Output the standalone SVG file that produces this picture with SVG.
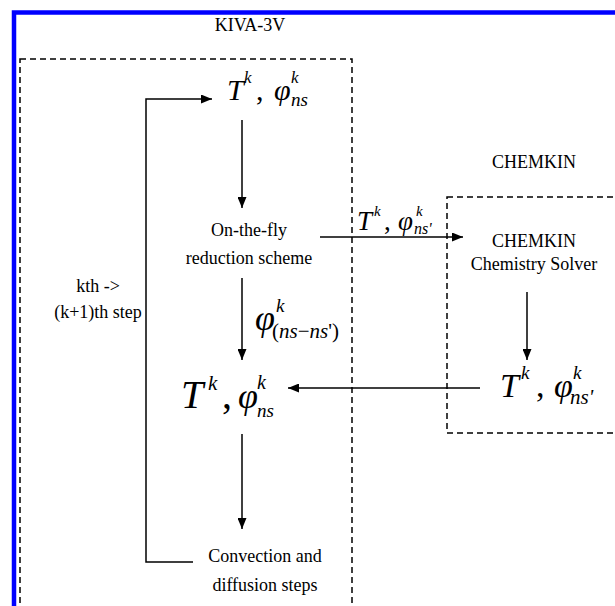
<svg xmlns="http://www.w3.org/2000/svg" width="615" height="606" viewBox="0 0 615 606" font-family="Liberation Serif, serif">
<style>
text{font-family:'Liberation Serif','Times New Roman',serif;fill:#000;}
.lbl{font-size:18px;text-anchor:middle;}
.m{font-style:italic;}
.up{font-style:normal;}
.ln{stroke:#000;stroke-width:1.5;fill:none;}
.dash{stroke:#000;stroke-width:1.5;fill:none;stroke-dasharray:6 4;}
</style>
<defs>
<marker id="ah" markerUnits="userSpaceOnUse" markerWidth="11" markerHeight="9" refX="11" refY="4.5" orient="auto">
<path d="M0,0 L11,4.5 L0,9 Z" fill="#000"/>
</marker>
</defs>
<rect x="0" y="0" width="615" height="606" fill="#fff"/>
<g id="frame">
<path d="M14,606 V12.5 H615" stroke="#0000ff" stroke-width="4.5" fill="none"/>
</g>
<g id="kiva">
<rect class="dash" x="20" y="59" width="332" height="600"/>
<text class="lbl" x="250" y="31">KIVA-3V</text>
</g>
<g id="chemkin">
<rect class="dash" x="447" y="197" width="200" height="236"/>
<text class="lbl" x="534" y="168">CHEMKIN</text>
</g>
<g id="state-top">
<text class="m" x="227" y="100" font-size="30">T</text>
<text class="m" x="244" y="83" font-size="17">k</text>
<text class="up" x="256" y="100" font-size="30">,</text>
<text class="m" x="274" y="100" font-size="30">φ</text>
<text class="m" x="291" y="83" font-size="17">k</text>
<text class="m" x="291" y="106" font-size="19">ns</text>
</g>
<g id="reduction">
<text class="lbl" x="249" y="236">On-the-fly</text>
<text class="lbl" x="249" y="264">reduction scheme</text>
</g>
<g id="solver">
<text class="lbl" x="534" y="247">CHEMKIN</text>
<text class="lbl" x="534" y="270">Chemistry Solver</text>
</g>
<g id="state-chem">
<text class="m" x="500" y="397" font-size="34">T</text>
<text class="m" x="521" y="379" font-size="19">k</text>
<text class="up" x="536" y="397" font-size="34">,</text>
<text class="m" x="554" y="397" font-size="34">φ</text>
<text class="m" x="573" y="379" font-size="19">k</text>
<text class="m" x="570" y="404" font-size="21">ns'</text>
</g>
<g id="state-mid">
<text class="m" x="181" y="408" font-size="40">T</text>
<text class="m" x="208" y="390" font-size="21">k</text>
<text class="up" x="222" y="408" font-size="40">,</text>
<text class="m" x="238" y="408" font-size="36">φ</text>
<text class="m" x="257" y="389" font-size="20">k</text>
<text class="m" x="257" y="417" font-size="19">ns</text>
</g>
<g id="transport">
<text class="lbl" x="265" y="562">Convection and</text>
<text class="lbl" x="265" y="591">diffusion steps</text>
</g>
<g id="loop-label">
<text class="lbl" x="98" y="292">kth -&gt;</text>
<text class="lbl" x="98" y="318">(k+1)th step</text>
</g>
<g id="connectors">
<path class="ln" d="M193,562 H146 V99 H212" marker-end="url(#ah)"/>
<line class="ln" x1="242" y1="120" x2="242" y2="208" marker-end="url(#ah)"/>
<line class="ln" x1="242" y1="278" x2="242" y2="360" marker-end="url(#ah)"/>
<line class="ln" x1="242" y1="434" x2="242" y2="529" marker-end="url(#ah)"/>
<line class="ln" x1="320" y1="237" x2="463" y2="237" marker-end="url(#ah)"/>
<line class="ln" x1="527" y1="292" x2="527" y2="360" marker-end="url(#ah)"/>
<line class="ln" x1="480" y1="388" x2="288" y2="388" marker-end="url(#ah)"/>
</g>
<g id="label-send">
<text class="m" x="357" y="230" font-size="27">T</text>
<text class="m" x="374" y="216" font-size="15">k</text>
<text class="up" x="384" y="230" font-size="27">,</text>
<text class="m" x="398" y="230" font-size="27">φ</text>
<text class="m" x="416" y="216" font-size="15">k</text>
<text class="m" x="414" y="234" font-size="16">ns'</text>
</g>
<g id="label-reduced">
<text class="m" x="255" y="330" font-size="36">φ</text>
<text class="m" x="276" y="312" font-size="19">k</text>
<text class="m" x="272" y="338" font-size="21"><tspan class="up">(</tspan>ns<tspan class="up">−</tspan>ns<tspan class="up">')</tspan></text>
</g>
</svg>
